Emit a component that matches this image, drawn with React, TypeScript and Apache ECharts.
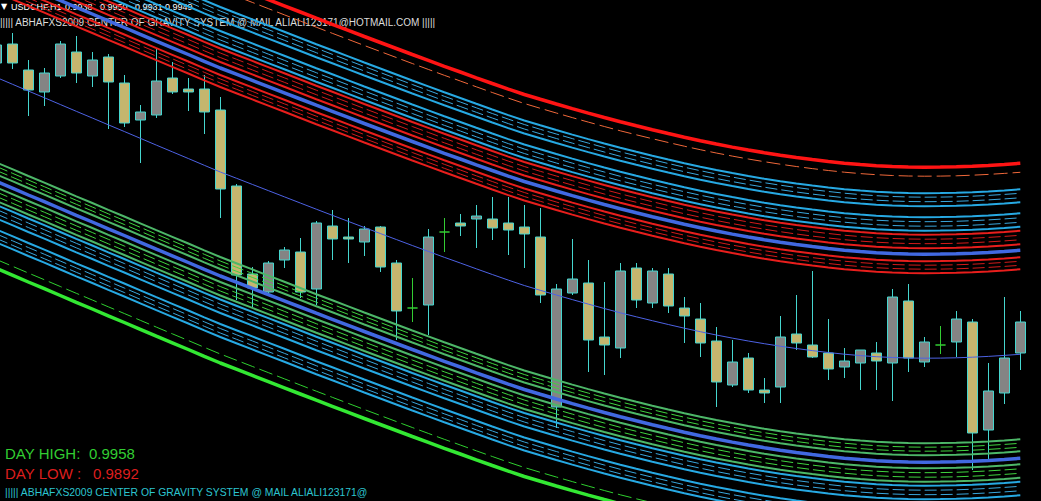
import React, { useEffect, useRef } from "react";
import * as echarts from "echarts";

// one entry per H1 bar (the first one is cut by the left edge); the bar number is the x value
const categories: string[] = Array.from({ length: 65 }, (_, i) => `bar ${i + 1}`);

// [open, close, low, high]
const candles: number[][] = [
  [1.00251, 1.00305, 1.0023, 1.00326],
  [1.00308, 1.00251, 1.00233, 1.00341],
  [1.0023, 1.0017, 1.00092, 1.0026],
  [1.00164, 1.00221, 1.00122, 1.00236],
  [1.00212, 1.00308, 1.00206, 1.00317],
  [1.00284, 1.00221, 1.00191, 1.00332],
  [1.00212, 1.0026, 1.00179, 1.00284],
  [1.00269, 1.00194, 1.00053, 1.00278],
  [1.00191, 1.00071, 1.00059, 1.00215],
  [1.0008, 1.00104, 0.99951, 1.00125],
  [1.00095, 1.00197, 1.00086, 1.00293],
  [1.00206, 1.00164, 1.00158, 1.00254],
  [1.00173, 1.00164, 1.00107, 1.00206],
  [1.00173, 1.00104, 1.00038, 1.00215],
  [1.0011, 0.99873, 0.99786, 1.00149],
  [0.99882, 0.99615, 0.9954, 0.99888],
  [0.99618, 0.99576, 0.99519, 0.99639],
  [0.99564, 0.99651, 0.99558, 0.99657],
  [0.9966, 0.9969, 0.99636, 0.99699],
  [0.99684, 0.99564, 0.99546, 0.99726],
  [0.99573, 0.99771, 0.99525, 0.99777],
  [0.99762, 0.99723, 0.9966, 0.9981],
  [0.99729, 0.99723, 0.99651, 0.99786],
  [0.99714, 0.99753, 0.99672, 0.99762],
  [0.99759, 0.99639, 0.99624, 0.99762],
  [0.99651, 0.99507, 0.9942, 0.9966],
  [0.99516, 0.99516, 0.99474, 0.99606],
  [0.99525, 0.99729, 0.99435, 0.99753],
  [0.99744, 0.99744, 0.99684, 0.99786],
  [0.99771, 0.99762, 0.99732, 0.99798],
  [0.99783, 0.99792, 0.99696, 0.99825],
  [0.99783, 0.99756, 0.9972, 0.99849],
  [0.99771, 0.9975, 0.99675, 0.99849],
  [0.99759, 0.99738, 0.99636, 0.99825],
  [0.99729, 0.99555, 0.99531, 0.99816],
  [0.99219, 0.99573, 0.99156, 0.99588],
  [0.99561, 0.99603, 0.99555, 0.99723],
  [0.99591, 0.9942, 0.99324, 0.9966],
  [0.99429, 0.99405, 0.99315, 0.99594],
  [0.99396, 0.99627, 0.99366, 0.99651],
  [0.99636, 0.9954, 0.99516, 0.99651],
  [0.99531, 0.99627, 0.99516, 0.99636],
  [0.99618, 0.99522, 0.99501, 0.99636],
  [0.99516, 0.99492, 0.99411, 0.99549],
  [0.99483, 0.99411, 0.99369, 0.99531],
  [0.99417, 0.99294, 0.99219, 0.99459],
  [0.99285, 0.99354, 0.99279, 0.9942],
  [0.99366, 0.9927, 0.99261, 0.99381],
  [0.9927, 0.99261, 0.99231, 0.99306],
  [0.99279, 0.99429, 0.99231, 0.99492],
  [0.99438, 0.99411, 0.9939, 0.99555],
  [0.99405, 0.99369, 0.99366, 0.99627],
  [0.99381, 0.99333, 0.993, 0.99483],
  [0.99339, 0.99357, 0.99306, 0.99396],
  [0.99351, 0.9939, 0.9927, 0.9939],
  [0.99381, 0.99357, 0.9927, 0.99414],
  [0.99351, 0.99549, 0.99237, 0.99573],
  [0.99537, 0.99366, 0.99324, 0.99588],
  [0.99354, 0.99414, 0.99339, 0.99429],
  [0.99405, 0.99405, 0.99378, 0.99462],
  [0.99414, 0.99483, 0.99369, 0.99507],
  [0.99474, 0.99141, 0.9903, 0.99483],
  [0.9915, 0.99267, 0.9906, 0.99351],
  [0.99261, 0.99366, 0.99228, 0.99549],
  [0.99381, 0.99474, 0.9933, 0.99507],
];

// centre-of-gravity regression curve (thin blue line)
const center: number[] = [
  1.002078, 1.001874, 1.00167, 1.001469, 1.001265, 1.001061, 1.00086, 1.000656,
  1.000455, 1.000251, 1.000047, 0.999846, 0.999645, 0.999441, 0.99924, 0.999054,
  0.998868, 0.998682, 0.998496, 0.99831, 0.998124, 0.997941, 0.997758, 0.997575,
  0.997395, 0.997215, 0.997035, 0.996858, 0.996681, 0.99651, 0.996336, 0.996165,
  0.995997, 0.995835, 0.995691, 0.99555, 0.995412, 0.995277, 0.995145, 0.995016,
  0.994896, 0.994779, 0.994665, 0.994554, 0.994449, 0.99435, 0.994257, 0.99417,
  0.994089, 0.994014, 0.993945, 0.993882, 0.993825, 0.993774, 0.993732, 0.993699,
  0.993675, 0.99366, 0.993654, 0.993657, 0.993666, 0.993684, 0.993708, 0.993738,
  0.993771,
];

// distances of the band lines from the centre curve (price units)
const innerBand = [0.00255, 0.00267, 0.00279, 0.00291];
const blueOffset = 0.00312;
const secondBand = [0.0033, 0.003435, 0.00357, 0.003705];
const cyanBand1 = [0.003825, 0.00396, 0.004095, 0.00423];
const cyanBand2 = [0.00456, 0.004695, 0.00483, 0.00495];
const outerDashOffset = 0.00546;
const outerThickOffset = 0.00573;

const Y_MIN = 0.98937;
const Y_MAX = 1.0044;
const X_MIN = 0.23125;
const X_MAX = 65.29375;

const headerSymbol = "USDCHF,H1";
const headerPrices = ["0.9938", "0.9950", "0.9931", "0.9949"];
const titleLine = "||||| ABHAFXS2009 CENTER OF GRAVITY SYSTEM @ MAIL ALIALI123171@HOTMAIL.COM |||||";
const footerLine = "||||| ABHAFXS2009 CENTER OF GRAVITY SYSTEM @ MAIL ALIALI123171@";
const dayHigh = "0.9958";
const dayLow = "0.9892";

const CYAN_SOLID = "#27a9e3";
const CYAN_DASH = "#3aa6dc";

function lineSeries(values: number[], color: string, width: number, dash: boolean | number[], z = 3) {
  return {
    type: "line",
    data: values.map((v, i) => [i, v]),
    symbol: "none",
    silent: true,
    z,
    emphasis: { disabled: true },
    lineStyle: {
      color,
      width,
      type: dash === true ? [12, 4] : Array.isArray(dash) ? dash : "solid",
    },
  };
}

function offsetCurve(sign: number, off: number) {
  return center.map((c) => +(c + sign * off).toFixed(6));
}

function buildSeries() {
  const isDoji = (c: number[]) => c[0] === c[1];
  const withX = candles.map((c, i) => [categories.indexOf(`bar ${i + 1}`), ...c]);
  const series: any[] = [
    {
      type: "candlestick",
      data: withX.filter((d) => !isDoji(d.slice(1))),
      barWidth: 10,
      z: 1,
      silent: true,
      itemStyle: {
        color: "#848484",
        color0: "#c5b66e",
        borderColor: "#45d6cf",
        borderColor0: "#45d6cf",
        borderWidth: 1,
      },
    },
    {
      type: "candlestick",
      data: withX.filter((d) => isDoji(d.slice(1))),
      barWidth: 10,
      z: 1,
      silent: true,
      itemStyle: {
        color: "#33cc33",
        color0: "#33cc33",
        borderColor: "#33cc33",
        borderColor0: "#33cc33",
        borderWidth: 1,
      },
    },
  ];

  const sides = [
    { sign: 1, solid: "#e81e1c", dash: "#d21a1a", outerDash: "#f0683a", outerThick: "#ff1414" },
    { sign: -1, solid: "#4db768", dash: "#3fd43f", outerDash: "#2fcf2f", outerThick: "#33e833" },
  ];

  for (const s of sides) {
    const band = (offs: number[], solid: string, dash: string) => {
      offs.forEach((o, i) => {
        const edge = i === 0 || i === offs.length - 1;
        series.push(lineSeries(offsetCurve(s.sign, o), edge ? solid : dash, edge ? 2 : 1, !edge));
      });
    };
    band(innerBand, s.solid, s.dash);
    band(secondBand, s.solid, s.dash);
    band(cyanBand1, CYAN_SOLID, CYAN_DASH);
    band(cyanBand2, CYAN_SOLID, CYAN_DASH);
    series.push(lineSeries(offsetCurve(s.sign, outerDashOffset), s.outerDash, 1, [14, 5]));
    series.push(lineSeries(offsetCurve(s.sign, outerThickOffset), s.outerThick, 3.5, false, 4));
    series.push(lineSeries(offsetCurve(s.sign, blueOffset), "#4169e1", 3.5, false, 4));
  }
  series.push(lineSeries(center, "#4d62e4", 1, false, 4));
  return series;
}

function txt(text: string, x: number, y: number, fill: string, fontSize: number, family = "'Liberation Sans', Arial, sans-serif") {
  return {
    type: "text",
    x,
    y,
    z: 0,
    silent: true,
    style: { text, fill, fontSize, fontFamily: family, verticalAlign: "top", align: "left" },
  };
}

export default function App() {
  const ref = useRef<HTMLDivElement>(null);

  useEffect(() => {
    document.body.style.margin = "0";
    document.body.style.background = "#000";
    document.documentElement.style.background = "#000";
    if (!ref.current) return;
    const chart = echarts.init(ref.current, undefined, { renderer: "svg" });
    const priceX = [65, 100, 135, 165];
    chart.setOption({
      animation: false,
      backgroundColor: "#000000",
      grid: { left: 0, top: 0, right: 0, bottom: 0, show: false, containLabel: false },
      xAxis: { type: "value", min: X_MIN, max: X_MAX, show: false, splitLine: { show: false } },
      yAxis: { type: "value", min: Y_MIN, max: Y_MAX, show: false, splitLine: { show: false } },
      tooltip: { show: false },
      series: buildSeries(),
      graphic: [
        txt("▼", 1, 2, "#ffffff", 8, "'DejaVu Sans', sans-serif"),
        txt(headerSymbol, 11, 2, "#ffffff", 9),
        ...headerPrices.map((p, i) => txt(p, priceX[i], 2, "#ffffff", 9)),
        txt(titleLine, 0, 17, "#dcdcdc", 10),
        txt("DAY HIGH:", 5, 446, "#32cd32", 15),
        txt(dayHigh, 89, 446, "#32cd32", 15),
        txt("DAY LOW :", 5, 466, "#dc1e1e", 15),
        txt(dayLow, 93, 466, "#dc1e1e", 15),
        txt(footerLine, 5, 487, "#2cc5d0", 10.4),
      ],
    });
    return () => chart.dispose();
  }, []);

  return <div ref={ref} style={{ width: 1041, height: 501, background: "#000", overflow: "hidden" }} />;
}
